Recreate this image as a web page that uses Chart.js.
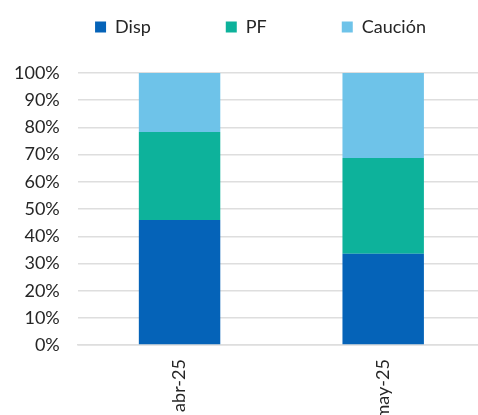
<!DOCTYPE html>
<html>
<head>
<meta charset="utf-8">
<script src="https://cdn.jsdelivr.net/npm/chart.js@4.4.1/dist/chart.umd.min.js"></script>
<style>
  html, body { margin: 0; padding: 0; background: #ffffff; overflow: hidden; }
  #wrap { width: 478px; height: 415px; overflow: hidden; }
</style>
</head>
<body>
<div id="wrap"><canvas id="stackChart" width="485" height="415"></canvas></div>
<script>
// Chart data
const categories = ["abr-25", "may-25"];
const dispValues = [46.0, 33.6];
const pfValues = [32.3, 35.2];
const caucionValues = [21.7, 31.2];

const yTicks = [0, 10, 20, 30, 40, 50, 60, 70, 80, 90, 100];

const COLORS = {
  disp: "#0563b8",
  pf: "#0db29b",
  caucion: "#6ec3e9",
  grid: "#dedede",
  text: "#262626",
};

const FONT = "Lato, 'Open Sans', sans-serif";

const createBarDataset = (label, data, color) => ({
  label,
  data,
  backgroundColor: color,
  borderWidth: 0,
  barPercentage: 0.4,
  categoryPercentage: 1,
});

// Legend: taller box (plot starts lower) and nudged right
const legendSpacer = {
  id: "legendSpacer",
  beforeInit(chart) {
    const fit = chart.legend.fit;
    chart.legend.fit = function () {
      fit.call(this);
      this.height = 130;
    };
  },
  afterLayout(chart) {
    chart.legend.left += 20;
    chart.legend.right += 20;
  },
};

const ctx = document.getElementById("stackChart").getContext("2d");

new Chart(ctx, {
  type: "bar",
  data: {
    labels: categories,
    datasets: [
      createBarDataset("Disp", dispValues, COLORS.disp),
      createBarDataset("PF", pfValues, COLORS.pf),
      createBarDataset("Caución", caucionValues, COLORS.caucion),
    ],
  },
  plugins: [legendSpacer],
  options: {
    responsive: false,
    animation: false,
    layout: { padding: { top: -57, bottom: -18.5, left: -4, right: 0 } },
    scales: {
      x: {
        stacked: true,
        grid: { display: false, drawTicks: false },
        border: { display: true, color: COLORS.grid, width: 1.5 },
        ticks: {
          color: COLORS.text,
          font: { family: FONT, size: 18 },
          minRotation: 90,
          maxRotation: 90,
          padding: 14,
        },
      },
      y: {
        stacked: true,
        min: 0,
        max: 100,
        afterBuildTicks: (axis) => {
          axis.ticks = yTicks.map((v) => ({ value: v }));
        },
        grid: { color: COLORS.grid, lineWidth: 1.5, drawTicks: false },
        border: { display: false },
        ticks: {
          color: COLORS.text,
          font: { family: FONT, size: 18 },
          padding: 18,
          callback: (v) => v + "%",
        },
      },
    },
    plugins: {
      legend: {
        position: "top",
        labels: {
          color: COLORS.text,
          font: { family: FONT, size: 18 },
          boxWidth: 11,
          boxHeight: 11,
          padding: 75,
        },
      },
      tooltip: { enabled: false },
    },
  },
});
</script>
</body>
</html>
